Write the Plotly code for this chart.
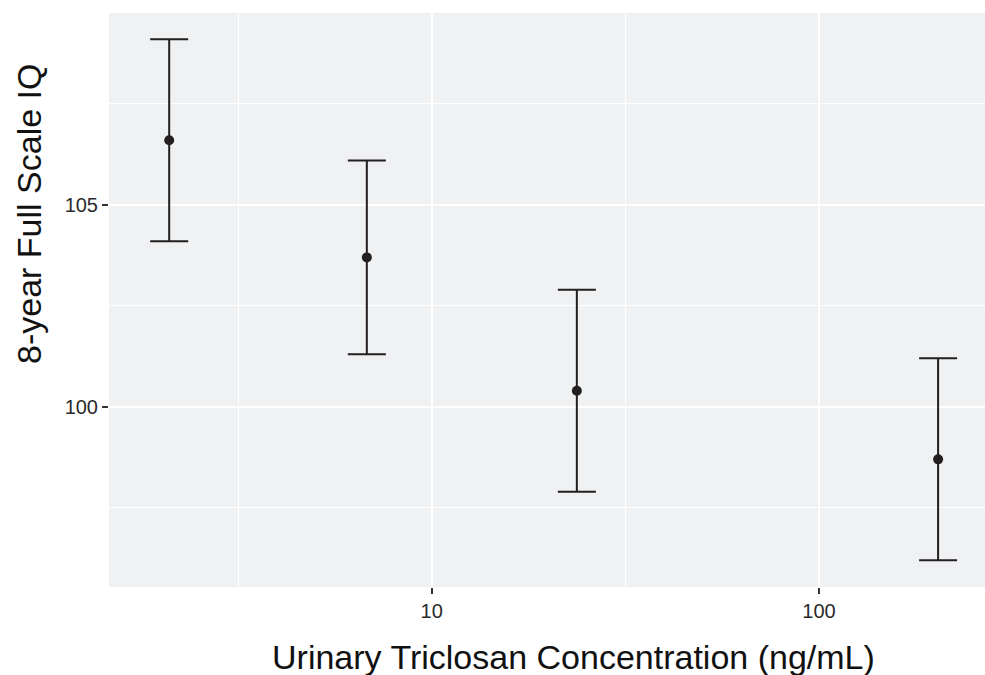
import plotly.graph_objects as go

# Triclosan concentration groups (ng/mL) and 8-year full scale IQ estimates
concentration = [2.10, 6.80, 23.7, 203.0]
iq_mean = [106.6, 103.7, 100.4, 98.7]
iq_lower = [104.1, 101.3, 97.9, 96.2]
iq_upper = [109.1, 106.1, 102.9, 101.2]

x_ticks = [10, 100]
x_tick_labels = ["10", "100"]
y_ticks = [100, 105]
y_tick_labels = ["100", "105"]

x_title = "Urinary Triclosan Concentration (ng/mL)"
y_title = "8-year Full Scale IQ"

W, H = 985, 675
ML, MR, MT, MB = 109, 0, 13, 88
FONT = "Liberation Sans, Arial, Helvetica, sans-serif"
INK = "#231F20"

fig = go.Figure(
    go.Scatter(
        x=concentration,
        y=iq_mean,
        mode="markers",
        marker=dict(size=10, color=INK),
        error_y=dict(
            type="data",
            symmetric=False,
            array=[u - m for u, m in zip(iq_upper, iq_mean)],
            arrayminus=[m - l for m, l in zip(iq_mean, iq_lower)],
            color=INK,
            thickness=2,
            width=19,
        ),
        showlegend=False,
    )
)

pw = W - ML - MR
ph = H - MT - MB

fig.update_layout(
    width=W,
    height=H,
    margin=dict(l=ML, r=MR, t=MT, b=MB, pad=0),
    paper_bgcolor="white",
    plot_bgcolor="#F0F1F3",
    font=dict(family=FONT, color="#2b2b2b", size=20),
    annotations=[
        dict(
            text=x_title, xref="paper", yref="paper",
            x=(573 - ML) / pw, y=-(657 - (MT + ph)) / ph,
            xanchor="center", yanchor="middle", showarrow=False,
            font=dict(size=34, color="#111111", family=FONT),
        ),
        dict(
            text=y_title, xref="paper", yref="paper",
            x=(29 - ML) / pw, y=((MT + ph) - 214) / ph,
            xanchor="center", yanchor="middle", showarrow=False, textangle=-90,
            font=dict(size=34, color="#111111", family=FONT),
        ),
    ],
)

fig.update_xaxes(
    type="log",
    range=[0.1668, 2.4286],
    tickmode="array",
    tickvals=x_ticks,
    ticktext=x_tick_labels,
    ticks="outside",
    ticklen=6,
    tickwidth=1.5,
    tickcolor="#333333",
    showgrid=True,
    gridcolor="white",
    gridwidth=2,
    minor=dict(tickvals=[10 ** 0.5, 10 ** 1.5], showgrid=True,
               gridcolor="white", gridwidth=1, ticks=""),
    zeroline=False,
    showline=False,
)

fig.update_yaxes(
    range=[95.54, 109.75],
    tickmode="array",
    tickvals=y_ticks,
    ticktext=y_tick_labels,
    ticks="outside",
    ticklen=6,
    tickwidth=1.5,
    tickcolor="#333333",
    showgrid=True,
    gridcolor="white",
    gridwidth=2,
    minor=dict(tickvals=[97.5, 102.5, 107.5], showgrid=True,
               gridcolor="white", gridwidth=1, ticks=""),
    zeroline=False,
    showline=False,
)

fig.write_html("out.html")
